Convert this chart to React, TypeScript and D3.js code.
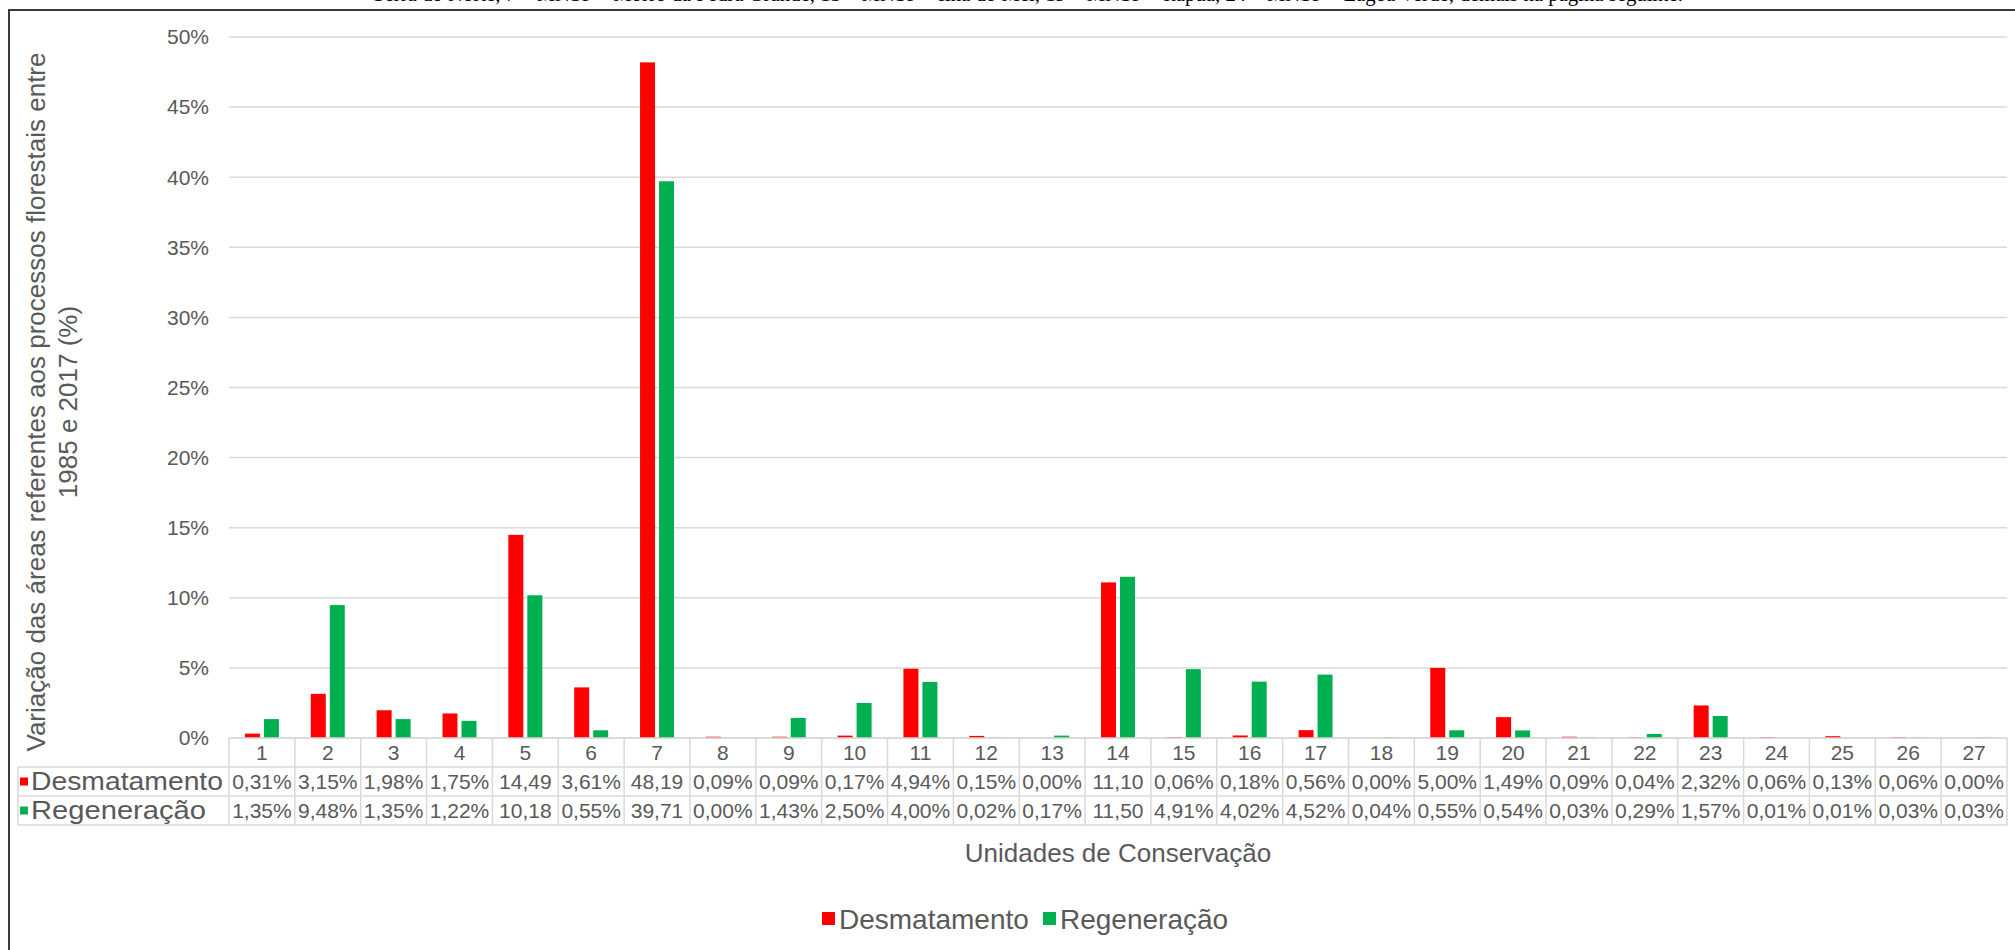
import * as d3 from "d3";

const categories = ["1", "2", "3", "4", "5", "6", "7", "8", "9", "10", "11", "12", "13", "14", "15", "16", "17", "18", "19", "20", "21", "22", "23", "24", "25", "26", "27"];

const desmatamento = [0.31, 3.15, 1.98, 1.75, 14.49, 3.61, 48.19, 0.09, 0.09, 0.17, 4.94, 0.15, 0.0, 11.1, 0.06, 0.18, 0.56, 0.0, 5.0, 1.49, 0.09, 0.04, 2.32, 0.06, 0.13, 0.06, 0.0];

const regeneracao = [1.35, 9.48, 1.35, 1.22, 10.18, 0.55, 39.71, 0.0, 1.43, 2.5, 4.0, 0.02, 0.17, 11.5, 4.91, 4.02, 4.52, 0.04, 0.55, 0.54, 0.03, 0.29, 1.57, 0.01, 0.01, 0.03, 0.03];

const yTicks = [0, 5, 10, 15, 20, 25, 30, 35, 40, 45, 50];

const seriesNames = ["Desmatamento", "Regeneração"];
const seriesColors = ["#FF0000", "#00B050"];

const topNote =
  "Serra do Norte, 7 – MNSP – Morro da Pedra Grande, 13 – MNSP – Ilha do Mel, 19 – MNSP – Itapuã, 24 – MNSP – Lagoa Verde; demais na página seguinte.";

// excel prints the big ones without the % (cell too narrow)
const cellLabel = (v: number) => {
  const s = v.toFixed(2).replace(".", ",");
  return v >= 10 ? s : s + "%";
};

function App() {
  const width = 2015;
  const height = 950;
  const left = 229;
  const right = 2007;
  const top = 37;
  const bottom = 738;
  const rowH = 29;
  const labelLeft = 18;
  const textColor = "#595959";
  const gridColor = "#D9D9D9";
  const font = "'Liberation Sans', Arial, sans-serif";

  const x = d3.scaleBand<string>().domain(categories).range([left, right]);
  const y = d3.scaleLinear().domain([0, 50]).range([bottom, top]);

  const barW = 15;
  const innerGap = 4;
  const groupOffset = (x.bandwidth() - (barW * 2 + innerGap)) / 2;

  const series = [desmatamento, regeneracao];
  // row label widths as they come out in the picture
  const labelWidths = [192, 175];
  const legendX = [822, 1043];

  return (
    <svg
      width={width}
      height={height}
      style={{ position: "absolute", left: 0, top: 0, background: "#fff" }}
      fontFamily={font}
    >
      {/* clipped caption from the page above */}
      <text
        x={1028}
        y={1}
        textAnchor="middle"
        fontFamily="'Liberation Serif', 'Times New Roman', serif"
        fontSize={20}
        textLength={1310}
        lengthAdjust="spacingAndGlyphs"
        fill="#000"
      >
        {topNote}
      </text>

      {/* chart frame */}
      <path d={`M9,${height + 5}V10H${width + 5}`} fill="none" stroke="#3a3a3a" strokeWidth={2} />

      {/* gridlines */}
      {yTicks.map((t) => (
        <line key={"g" + t} x1={left} x2={right} y1={y(t)} y2={y(t)} stroke={gridColor} strokeWidth={1.5} />
      ))}

      {/* y tick labels */}
      {yTicks.map((t) => (
        <text key={"t" + t} x={209} y={y(t)} dy="0.35em" textAnchor="end" fontSize={21} fill={textColor}>
          {t + "%"}
        </text>
      ))}

      {/* bars */}
      {series.map((vals, si) =>
        vals.map((v, i) => (
          <rect
            key={si + "-" + i}
            x={(x(categories[i]) as number) + groupOffset + si * (barW + innerGap)}
            y={y(v)}
            width={barW}
            height={bottom - y(v)}
            fill={seriesColors[si]}
          />
        ))
      )}

      {/* data table */}
      <g stroke={gridColor} strokeWidth={1.5}>
        <line x1={left} x2={right} y1={bottom} y2={bottom} />
        {[1, 2, 3].map((r) => (
          <line key={"h" + r} x1={labelLeft} x2={right} y1={bottom + r * rowH} y2={bottom + r * rowH} />
        ))}
        <line x1={labelLeft} x2={labelLeft} y1={bottom + rowH} y2={bottom + 3 * rowH} />
        {categories.map((c) => (
          <line key={"v" + c} x1={x(c)} x2={x(c)} y1={bottom} y2={bottom + 3 * rowH} />
        ))}
        <line x1={right} x2={right} y1={bottom} y2={bottom + 3 * rowH} />
      </g>

      {categories.map((c) => (
        <text
          key={"c" + c}
          x={(x(c) as number) + x.bandwidth() / 2}
          y={bottom + rowH / 2}
          dy="0.35em"
          textAnchor="middle"
          fontSize={21}
          fill={textColor}
        >
          {c}
        </text>
      ))}

      {series.map((vals, si) => (
        <g key={"row" + si}>
          <rect x={20} y={bottom + (si + 1.5) * rowH - 4} width={8} height={8} fill={seriesColors[si]} />
          <text
            x={31}
            y={bottom + (si + 1.5) * rowH}
            dy="0.35em"
            fontSize={25}
            textLength={labelWidths[si]}
            lengthAdjust="spacingAndGlyphs"
            fill={textColor}
          >
            {seriesNames[si]}
          </text>
          {vals.map((v, i) => (
            <text
              key={"v" + i}
              x={(x(categories[i]) as number) + x.bandwidth() / 2}
              y={bottom + (si + 1.5) * rowH}
              dy="0.35em"
              textAnchor="middle"
              fontSize={21}
              fill={textColor}
            >
              {cellLabel(v)}
            </text>
          ))}
        </g>
      ))}

      {/* axis titles */}
      <text x={(left + right) / 2} y={853} dy="0.35em" textAnchor="middle" fontSize={26} fill={textColor}>
        Unidades de Conservação
      </text>
      <g transform={`translate(36, 402) rotate(-90)`}>
        <text x={0} y={0} dy="0.35em" textAnchor="middle" fontSize={26} fill={textColor}>
          Variação das áreas referentes aos processos florestais entre
        </text>
        <text x={0} y={32} dy="0.35em" textAnchor="middle" fontSize={26} fill={textColor}>
          1985 e 2017 (%)
        </text>
      </g>

      {/* legend */}
      {seriesNames.map((n, i) => (
        <g key={"lg" + n} transform={`translate(${legendX[i]}, 919)`}>
          <rect x={0} y={-7} width={13} height={13} fill={seriesColors[i]} />
          <text x={17} y={0} dy="0.35em" fontSize={28} fill={textColor}>
            {n}
          </text>
        </g>
      ))}
    </svg>
  );
}

export default App;
